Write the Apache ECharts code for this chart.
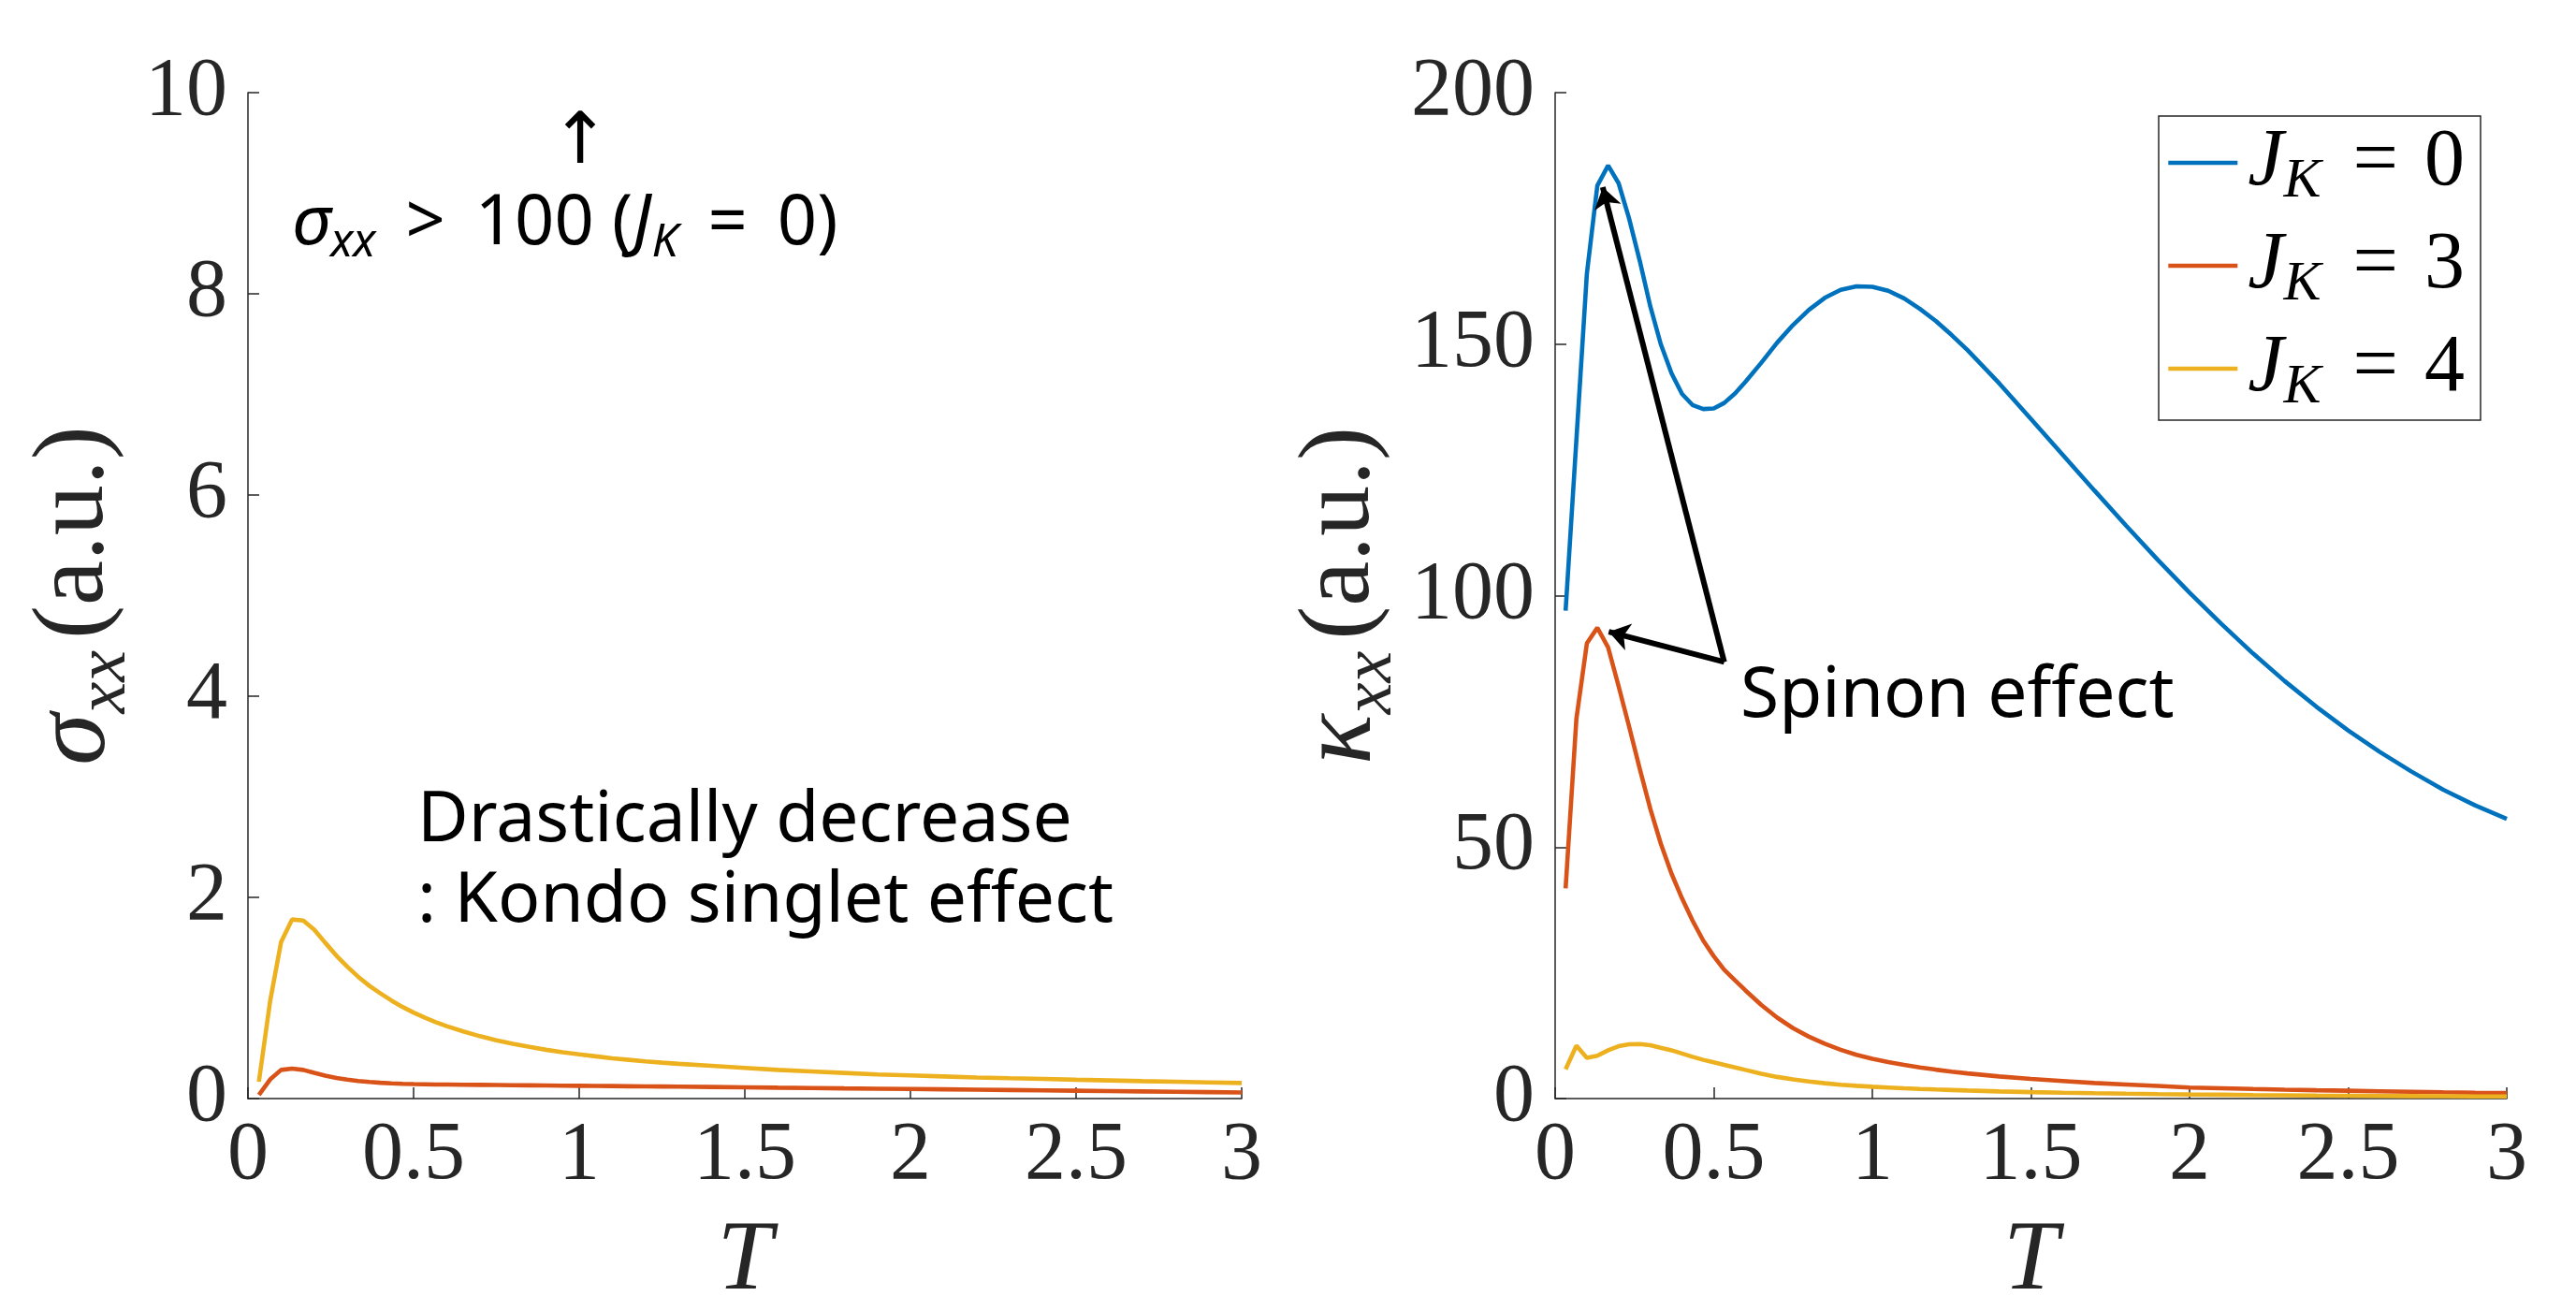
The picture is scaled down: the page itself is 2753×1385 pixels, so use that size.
<!DOCTYPE html>
<html>
<head>
<meta charset="utf-8">
<script src="https://cdn.jsdelivr.net/npm/echarts@6/dist/echarts.min.js"></script>
<style>
html,body{margin:0;padding:0;background:#fff}
#main{width:2753px;height:1385px}
</style>
</head>
<body>
<div id="main"></div>
<script>
// temperature samples
var tVals = [0.033, 0.067, 0.1, 0.133, 0.167, 0.2, 0.233, 0.267, 0.3, 0.333, 0.367, 0.4, 0.433, 0.467, 0.5, 0.533, 0.567, 0.6,
  0.65, 0.7, 0.75, 0.8, 0.85, 0.9, 0.95, 1.0, 1.05, 1.1, 1.15, 1.2, 1.25, 1.3,
  1.4, 1.5, 1.6, 1.7, 1.8, 1.9, 2.0, 2.1, 2.2, 2.3, 2.4, 2.5, 2.6, 2.7, 2.8, 2.9, 3.0];

// left panel: sigma_xx
var sigmaJK3 = [0.037, 0.19, 0.285, 0.298, 0.285, 0.255, 0.228, 0.205, 0.188, 0.175, 0.165, 0.157, 0.151, 0.147, 0.144, 0.142, 0.14, 0.139,
  0.1375, 0.136, 0.1345, 0.133, 0.1315, 0.13, 0.1285, 0.127, 0.1255, 0.124, 0.1225, 0.121, 0.1195, 0.118,
  0.115, 0.112, 0.108, 0.105, 0.101, 0.098, 0.095, 0.0915, 0.088, 0.0845, 0.081, 0.0775, 0.074, 0.0705, 0.067, 0.0635, 0.06];
var sigmaJK4 = [0.167, 0.97, 1.556, 1.78, 1.77, 1.68, 1.55, 1.42, 1.31, 1.21, 1.12, 1.045, 0.975, 0.91, 0.855, 0.805, 0.76, 0.72,
  0.668, 0.62, 0.58, 0.545, 0.513, 0.485, 0.461, 0.44, 0.42, 0.40, 0.385, 0.37, 0.357, 0.345,
  0.325, 0.305, 0.285, 0.27, 0.255, 0.24, 0.23, 0.22, 0.21, 0.202, 0.195, 0.187, 0.18, 0.173, 0.167, 0.161, 0.155];

// right panel: kappa_xx
var kappaJK0 = [97, 131, 164, 181.5, 185.5, 182, 175, 166.5, 157.5, 150, 144.2, 140.1, 137.9, 137.1, 137.2, 138.3, 140.2, 142.5,
  146.3, 150.3, 153.8, 156.8, 159.2, 160.8, 161.5, 161.4, 160.6, 159.1, 157.0, 154.6, 151.8, 148.8,
  142.2, 135.1, 128.0, 120.9, 113.9, 107.1, 100.6, 94.4, 88.5, 83.0, 77.9, 73.2, 68.9, 65.0, 61.4, 58.3, 55.6];
var kappaJK3 = [41.8, 75.5, 90.5, 93.6, 89.7, 82, 74, 65.5, 57.6, 50.7, 44.7, 39.8, 35.4, 31.4, 28.3, 25.6, 23.5, 21.5,
  18.6, 16.1, 14.0, 12.3, 10.9, 9.7, 8.7, 7.9, 7.25, 6.7, 6.2, 5.75, 5.35, 5.0,
  4.4, 3.9, 3.5, 3.1, 2.8, 2.5, 2.2, 2.05, 1.9, 1.77, 1.65, 1.55, 1.45, 1.35, 1.25, 1.17, 1.1];
var kappaJK4 = [5.8, 10.5, 8.1, 8.5, 9.6, 10.4, 10.8, 10.85, 10.6, 10.1, 9.6, 8.95, 8.3, 7.7, 7.2, 6.7, 6.2, 5.7,
  4.95, 4.3, 3.8, 3.4, 3.05, 2.75, 2.53, 2.35, 2.2, 2.05, 1.92, 1.8, 1.7, 1.6,
  1.42, 1.28, 1.16, 1.06, 0.97, 0.89, 0.82, 0.76, 0.7, 0.65, 0.6, 0.56, 0.52, 0.49, 0.46, 0.43, 0.41];

var seriesNames = ['J_K = 0', 'J_K = 3', 'J_K = 4'];
var lineColors = ['#0072BD', '#D95319', '#EDB120'];

// spinon arrows: [tail, head] in (T, kappa)
var spinonArrows = [
  [[0.533, 86.8], [0.150, 181.2]],
  [[0.533, 86.8], [0.169, 92.8]]
];

var axisCol = '#262626';
var serif = 'Liberation Serif';

function pairs(ys) {
  return tVals.map(function (t, i) { return [t, ys[i]]; });
}

function xAxisFor(idx) {
  return {
    type: 'value', gridIndex: idx, min: 0, max: 3, interval: 0.5,
    name: 'T', nameLocation: 'middle', nameGap: 122,
    nameTextStyle: { fontFamily: serif, fontStyle: 'italic', fontSize: 106, color: axisCol },
    axisLine: { show: true, onZero: false, lineStyle: { color: axisCol, width: 1.5 } },
    axisTick: { show: true, inside: true, length: 12, lineStyle: { color: axisCol, width: 1.5 } },
    axisLabel: { fontFamily: serif, fontSize: 88, color: axisCol, margin: 18 },
    splitLine: { show: false }
  };
}

function yAxisFor(idx, max, step, sym, gap) {
  return {
    type: 'value', gridIndex: idx, min: 0, max: max, interval: step,
    name: '{s|' + sym + '}{sub|xx}{p|(a.u.)}',
    nameLocation: 'middle', nameGap: gap, nameRotate: 90,
    nameTextStyle: {
      color: axisCol, fontFamily: serif,
      rich: {
        s: { fontFamily: serif, fontStyle: 'italic', fontSize: 112, lineHeight: 140, color: axisCol },
        sub: { fontFamily: serif, fontStyle: 'italic', fontSize: 76, lineHeight: 76, verticalAlign: 'bottom', color: axisCol, padding: [0, 12, 0, 0] },
        p: { fontFamily: serif, fontSize: 108, lineHeight: 140, color: axisCol }
      }
    },
    axisLine: { show: true, lineStyle: { color: axisCol, width: 1.5 } },
    axisTick: { show: true, inside: true, length: 12, lineStyle: { color: axisCol, width: 1.5 } },
    axisLabel: { fontFamily: serif, fontSize: 88, color: axisCol, margin: 22 },
    splitLine: { show: false }
  };
}

function lineSeries(name, color, ys, idx) {
  return {
    name: name, type: 'line', xAxisIndex: idx, yAxisIndex: idx,
    data: pairs(ys), symbol: 'none', showSymbol: false,
    lineStyle: { color: color, width: 4.6 }, itemStyle: { color: color },
    clip: true
  };
}

var chart = echarts.init(document.getElementById('main'), null, { renderer: 'canvas' });

var kappa0 = lineSeries(seriesNames[0], lineColors[0], kappaJK0, 1);
kappa0.markLine = {
  silent: true, animation: false,
  symbol: ['none', 'arrow'], symbolSize: 22,
  label: { show: false },
  lineStyle: { color: '#000', width: 6, type: 'solid' },
  emphasis: { disabled: true },
  data: spinonArrows.map(function (a) { return [{ coord: a[0] }, { coord: a[1] }]; })
};

var option = {
  backgroundColor: '#fff',
  animation: false,
  grid: [
    { left: 265, top: 99, width: 1062, height: 1075, outerBoundsMode: 'none' },
    { left: 1662, top: 99, width: 1017, height: 1075, outerBoundsMode: 'none' }
  ],
  xAxis: [xAxisFor(0), xAxisFor(1)],
  yAxis: [yAxisFor(0, 10, 2, 'σ', 112), yAxisFor(1, 200, 50, 'κ', 156)],
  legend: {
    data: seriesNames, orient: 'vertical', left: 2307, top: 124,
    padding: [7, 17, 5, 8], itemGap: 17, itemWidth: 74, itemHeight: 4,
    borderColor: axisCol, borderWidth: 1.5, backgroundColor: '#fff',
    selectedMode: false,
    lineStyle: { width: 4.6 },
    formatter: function (name) {
      return '{j|J}{k|K}{q|=}{d|' + name.split('= ')[1] + '}';
    },
    textStyle: {
      rich: {
        j: { fontFamily: serif, fontStyle: 'italic', fontSize: 86, lineHeight: 100, color: '#000', padding: [0, 0, 0, 6] },
        k: { fontFamily: serif, fontStyle: 'italic', fontSize: 60, lineHeight: 60, verticalAlign: 'bottom', color: '#000', padding: [0, 34, 0, 0] },
        q: { fontFamily: serif, fontSize: 86, lineHeight: 100, color: '#000', padding: [0, 28, 0, 0] },
        d: { fontFamily: serif, fontSize: 86, lineHeight: 100, color: '#000' }
      }
    }
  },
  graphic: [
    { type: 'text', x: 620, y: 154, silent: true,
      style: { text: '↑', fontFamily: 'DejaVu Sans', fontSize: 76, fill: '#000', align: 'center', verticalAlign: 'middle' } },
    { type: 'text', x: 312, y: 240, silent: true,
      style: {
        text: '{s|σ}{b|xx}{g|>}{n|100 (}{s|J}{b|K}{g|=}{n|0)}',
        verticalAlign: 'middle', align: 'left',
        rich: {
          s: { fontFamily: 'Noto Sans', fontStyle: 'italic', fontSize: 74, lineHeight: 90, fill: '#000' },
          b: { fontFamily: 'Noto Sans', fontStyle: 'italic', fontSize: 50, lineHeight: 50, verticalAlign: 'bottom', fill: '#000' },
          g: { fontFamily: 'Noto Sans', fontSize: 74, lineHeight: 90, fill: '#000', padding: [0, 32, 0, 32] },
          n: { fontFamily: 'Noto Sans', fontSize: 74, lineHeight: 90, fill: '#000' }
        }
      } },
    { type: 'text', x: 446, y: 878, silent: true,
      style: { text: 'Drastically decrease', fontFamily: 'Noto Sans', fontSize: 75, fill: '#000', align: 'left', verticalAlign: 'middle' } },
    { type: 'text', x: 446, y: 964, silent: true,
      style: { text: ': Kondo singlet effect', fontFamily: 'Noto Sans', fontSize: 75, fill: '#000', align: 'left', verticalAlign: 'middle' } },
    { type: 'text', x: 1860, y: 745, silent: true,
      style: { text: 'Spinon effect', fontFamily: 'Noto Sans', fontSize: 75, fill: '#000', align: 'left', verticalAlign: 'middle' } }
  ],
  series: [
    lineSeries(seriesNames[1], lineColors[1], sigmaJK3, 0),
    lineSeries(seriesNames[2], lineColors[2], sigmaJK4, 0),
    kappa0,
    lineSeries(seriesNames[1], lineColors[1], kappaJK3, 1),
    lineSeries(seriesNames[2], lineColors[2], kappaJK4, 1)
  ]
};

chart.setOption(option);
</script>
</body>
</html>
